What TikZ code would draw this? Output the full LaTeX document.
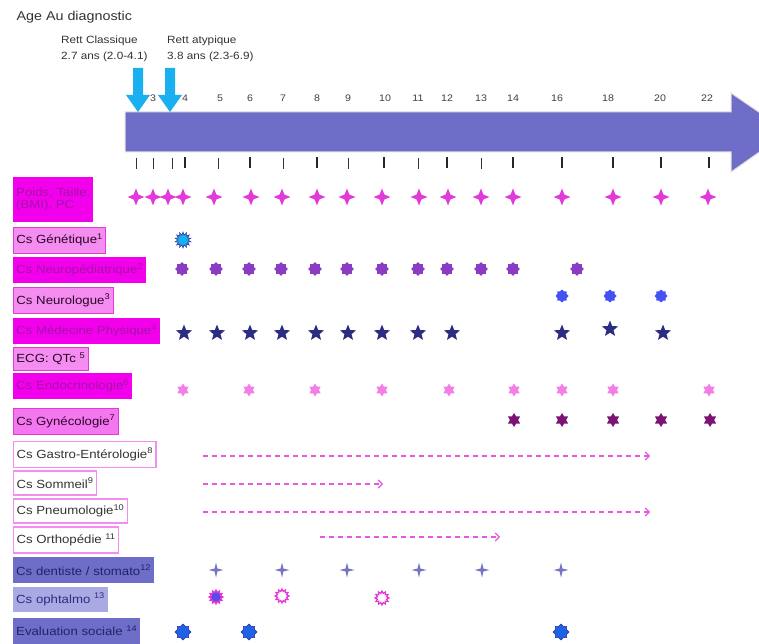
\documentclass[tikz,border=0pt]{standalone}
\usepackage{fontspec}
\setmainfont[FakeStretch=1.12]{Liberation Sans}
\usepackage{tikz}
\usetikzlibrary{arrows.meta,shapes.geometric}
\definecolor{band}{HTML}{6E6EC8}
\definecolor{diag}{HTML}{1AB0F0}
\definecolor{magbox}{HTML}{F200EC}
\definecolor{magtext}{HTML}{A412A8}
\definecolor{pinkbox}{HTML}{F58CF0}
\definecolor{magline}{HTML}{E23ADA}
\definecolor{lilac}{HTML}{A9A9E3}
\definecolor{purplemk}{HTML}{8A3DC2}
\definecolor{navy}{HTML}{2B2C82}
\definecolor{plum}{HTML}{7B1372}
\definecolor{royal}{HTML}{4452F2}
\definecolor{azure}{HTML}{1F62E6}
\definecolor{rose}{HTML}{F27FE8}
\definecolor{slate}{HTML}{7474C2}
\tikzset{
  lab/.style={anchor=west,inner xsep=3pt,inner ysep=0pt,minimum height=26pt,
    align=left,font=\fontsize{11.8}{12.5}\selectfont},
  labmag/.style={lab,fill=magbox,text=magtext},
  labpink/.style={lab,fill=pinkbox,draw=magline,line width=.8pt,text=black!75!magtext},
  labwhite/.style={lab,fill=white,draw=pinkbox,line width=1.2pt,text=black!80},
  labband/.style={lab,fill=band,text=navy!80!black},
  lablilac/.style={lab,fill=lilac,text=navy},
  mk/.style={star,inner sep=0pt},
  plusmk/.style={mk,star points=4,star point ratio=2.5,fill=magline,minimum size=17pt},
  genmk/.style={mk,star points=14,star point ratio=1.6,fill=diag,draw=royal!70!black,line width=.6pt,minimum size=16pt},
  neuromk/.style={mk,star points=8,star point ratio=1.35,fill=purplemk,minimum size=14pt},
  neurolmk/.style={mk,star points=8,star point ratio=1.3,fill=royal,minimum size=13pt},
  physmk/.style={mk,star points=5,star point ratio=2.3,fill=navy,minimum size=17pt},
  endomk/.style={mk,star points=6,star point ratio=1.7,fill=rose,minimum size=13pt},
  gynmk/.style={mk,star points=6,star point ratio=1.7,fill=plum,minimum size=14pt},
  dentmk/.style={mk,star points=4,star point ratio=3.6,fill=slate,minimum size=15pt},
  ophmk/.style={mk,star points=12,star point ratio=1.5,draw=magline,line width=1.2pt,minimum size=14pt},
  socmk/.style={mk,star points=8,star point ratio=1.3,fill=azure,draw=royal!60!black,line width=.5pt,minimum size=16pt},
  dasharrow/.style={draw=magline!85!white,line width=1.2pt,dash pattern=on 5pt off 4pt,
    -{Straight Barb[length=4pt,width=8pt]}},
  tick/.style={draw=black!80,line width=.6pt},
  boldtick/.style={draw=black!85,line width=1.6pt}
}
\begin{document}
\begin{tikzpicture}[x=1pt,y=-1pt]
  \useasboundingbox (0,0) rectangle (759,644);
  % header
  \node[anchor=west,text=black!80,font=\fontsize{12.8}{14}\selectfont] (title) at (13,17) {Age Au diagnostic};
  \node[anchor=north west,align=left,inner sep=0pt,text=black!80,font=\fontsize{10.5}{15.5}\selectfont] (classique) at (61,36) {Rett Classique\\2.7 ans (2.0-4.1)};
  \node[anchor=north west,align=left,inner sep=0pt,text=black!80,font=\fontsize{10.5}{15.5}\selectfont] (atypique) at (167,36) {Rett atypique\\3.8 ans (2.3-6.9)};

  % time band
  \draw[fill=band,draw=black!12,line width=1pt] (125,112) -- (731,112) -- (731,93) -- (788,132)
    -- (731,172) -- (731,152) -- (125,152) -- cycle;
  \foreach \ax in {138,170}
    \fill[diag] (\ax-5,68) -- (\ax+5,68) -- (\ax+5,95) -- (\ax+12,95) -- (\ax,112)
      -- (\ax-12,95) -- (\ax-5,95) -- cycle;
  \foreach \x/\a in {153/3,185/4,220/5,250/6,283/7,317/8,348/9,385/10,418/11,447/12,481/13,513/14,557/16,608/18,660/20,707/22}
    \node[text=black!75,font=\fontsize{9.5}{10}\selectfont] (age\a) at (\x,98) {\a};
  \foreach \x in {136,153,172,218,283,348,418,481}
    \draw[tick] (\x,158) -- (\x,169);
  \foreach \x in {185,250,317,384,447,513,562,613,661,709}
    \draw[boldtick] (\x,157) -- (\x,168);

  % rows
  \node[labmag,minimum height=45pt] (poids) at (13,199.5) {Poids, Taille,\\(BMI), PC};
  \node[labpink] (genet) at (13,240) {Cs Génétique\textsuperscript{1}};
  \node[labmag] (neuroped) at (13,270) {Cs Neuropédiatrique\textsuperscript{2}};
  \node[labpink] (neurol) at (13,300.5) {Cs Neurologue\textsuperscript{3}};
  \node[labmag] (medphys) at (13,331) {Cs Médecine Physique\textsuperscript{4}};
  \node[labpink,minimum height=23pt] (ecg) at (13,358.5) {ECG: QTc \textsuperscript{5}};
  \node[labmag] (endo) at (13,386) {Cs Endocrinologie\textsuperscript{6}};
  \node[labpink,fill=pinkbox!85!magbox] (gyn) at (13,421.5) {Cs Gynécologie\textsuperscript{7}};
  \node[labwhite] (gastro) at (13,454.5) {Cs Gastro-Entérologie\textsuperscript{8}};
  \node[labwhite,minimum height=24pt] (sommeil) at (13,483) {Cs Sommeil\textsuperscript{9}};
  \node[labwhite,minimum height=24pt] (pneumo) at (13,511) {Cs Pneumologie\textsuperscript{10}};
  \node[labwhite] (ortho) at (13,540) {Cs Orthopédie \textsuperscript{11}};
  \node[labband] (dent) at (13,570) {Cs dentiste / stomato\textsuperscript{12}};
  \node[lablilac,minimum height=25pt] (ophta) at (13,599.5) {Cs ophtalmo \textsuperscript{13}};
  \node[labband] (social) at (13,630.5) {Evaluation sociale \textsuperscript{14}};

  % visits
  \foreach \x [count=\i] in {136,153,168,183,214,251,282,317,347,382,419,448,481,513,562,613,661,708}
    \node[plusmk] (poids\i) at (\x,197) {};
  \node[genmk] (genet1) at (183,240) {};
  \foreach \x [count=\i] in {182,216,249,281,315,347,382,418,447,481,513,577}
    \node[neuromk] (neuroped\i) at (\x,269) {};
  \foreach \x [count=\i] in {562,610,661}
    \node[neurolmk] (neurol\i) at (\x,296) {};
  \foreach \x/\y [count=\i] in {184/333,217/333,250/333,282/333,316/333,348/333,382/333,418/333,452/333,562/333,610/329,663/333}
    \node[physmk] (medphys\i) at (\x,\y) {};
  \foreach \x [count=\i] in {183,249,315,382,449,514,562,613,709}
    \node[endomk] (endo\i) at (\x,390) {};
  \foreach \x [count=\i] in {514,562,613,661,710}
    \node[gynmk] (gyn\i) at (\x,420) {};
  \foreach \x [count=\i] in {216,282,347,419,482,561}
    \node[dentmk] (dent\i) at (\x,570) {};
  \node[ophmk,fill=royal!70!purplemk] (ophta1) at (216,597) {};
  \node[ophmk,fill=white] (ophta2) at (282,596) {};
  \node[ophmk,fill=white] (ophta3) at (382,598) {};
  \foreach \x [count=\i] in {183,249,561}
    \node[socmk] (social\i) at (\x,632) {};

  % follow-up periods
  \coordinate (gastro-s) at (203,456); \coordinate (gastro-e) at (650,456);
  \coordinate (sommeil-s) at (203,484); \coordinate (sommeil-e) at (383,484);
  \coordinate (pneumo-s) at (203,512); \coordinate (pneumo-e) at (650,512);
  \coordinate (ortho-s) at (320,537); \coordinate (ortho-e) at (500,537);
  \draw[dasharrow] (gastro-s) -- (gastro-e);
  \draw[dasharrow] (sommeil-s) -- (sommeil-e);
  \draw[dasharrow] (pneumo-s) -- (pneumo-e);
  \draw[dasharrow] (ortho-s) -- (ortho-e);
\end{tikzpicture}
\end{document}
